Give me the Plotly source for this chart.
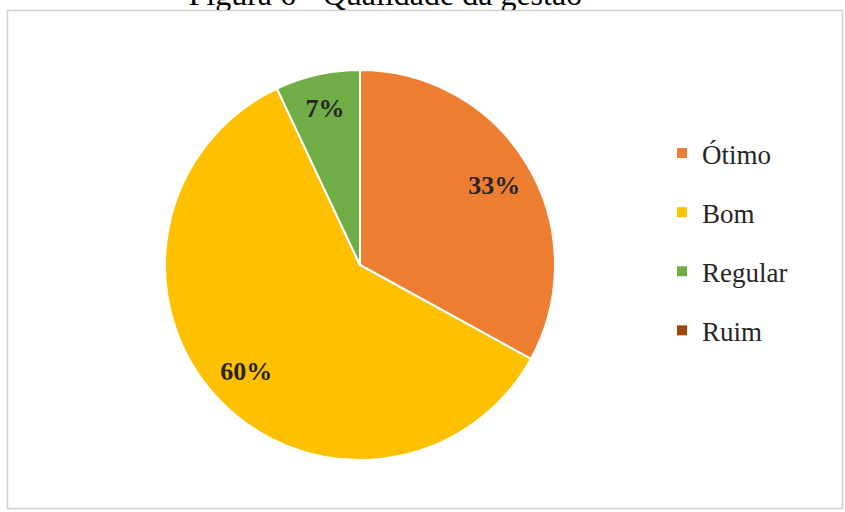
import plotly.graph_objects as go

categories = ["Ótimo", "Bom", "Regular", "Ruim"]
values = [33, 60, 7, 0]
colors = ["#ED7D31", "#FFC000", "#70AD47", "#9E480E"]
title_text = "Figura 6 - Qualidade da gestão"

W, H = 845, 512
labels_txt = [f"{v}%" if v > 0 else "" for v in values]

fig = go.Figure()

cx, cy, r = 360, 265, 195
dom = dict(x=[(cx - r) / W, (cx + r) / W], y=[(H - cy - r) / H, (H - cy + r) / H])

# pie slices
fig.add_trace(go.Pie(
    labels=categories, values=values, textinfo="none",
    sort=False, direction="clockwise", rotation=0,
    marker=dict(colors=colors, line=dict(color="white", width=2)),
    domain=dom, showlegend=False, hoverinfo="label+percent",
))

# data labels, carried by a transparent ring so they sit near the outer part of each slice
fig.add_trace(go.Pie(
    labels=categories, values=values, text=labels_txt, textinfo="text",
    sort=False, direction="clockwise", rotation=0, hole=0.6,
    marker=dict(colors=["rgba(0,0,0,0)"] * len(values), line=dict(width=0)),
    textposition="inside", insidetextorientation="horizontal",
    textfont=dict(family="Liberation Serif", size=26, color="#262626", weight="bold"),
    domain=dom, showlegend=False, hoverinfo="skip",
))

# legend entries
for name, col in zip(categories, colors):
    fig.add_trace(go.Scatter(
        x=[None], y=[None], mode="markers", name=name, legendgroup=name,
        marker=dict(symbol="square", size=10, color=col),
        xaxis="x", yaxis="y",
    ))

# clipped title (only the upper part shows above the chart frame, as in the reference)
fig.add_trace(go.Scatter(
    x=[0.456], y=[1.3], mode="text", text=[title_text], textposition="middle center",
    textfont=dict(family="Liberation Serif", size=32, color="#000000"),
    cliponaxis=True, showlegend=False, hoverinfo="skip",
    xaxis="x", yaxis="y",
))

fig.update_layout(
    width=W, height=H,
    margin=dict(l=0, r=0, t=0, b=0),
    paper_bgcolor="white", plot_bgcolor="rgba(0,0,0,0)",
    xaxis=dict(domain=[0, 1], range=[0, 1], visible=False, fixedrange=True),
    yaxis=dict(domain=[1 - 10 / H, 1], range=[0, 1], visible=False, fixedrange=True),
    showlegend=True,
    legend=dict(
        x=662 / W, xanchor="left", y=1 - 129 / H, yanchor="top",
        font=dict(family="Liberation Serif", size=27, color="#262626"),
        tracegroupgap=21, bgcolor="rgba(0,0,0,0)",
    ),
    shapes=[dict(
        type="rect", xref="paper", yref="paper",
        x0=7.5 / W, x1=842.5 / W, y0=1 - 508.5 / H, y1=1 - 10.5 / H,
        line=dict(color="#d0d0d0", width=1.5), fillcolor="rgba(0,0,0,0)", layer="below",
    )],
)

fig.write_html("out.html")
